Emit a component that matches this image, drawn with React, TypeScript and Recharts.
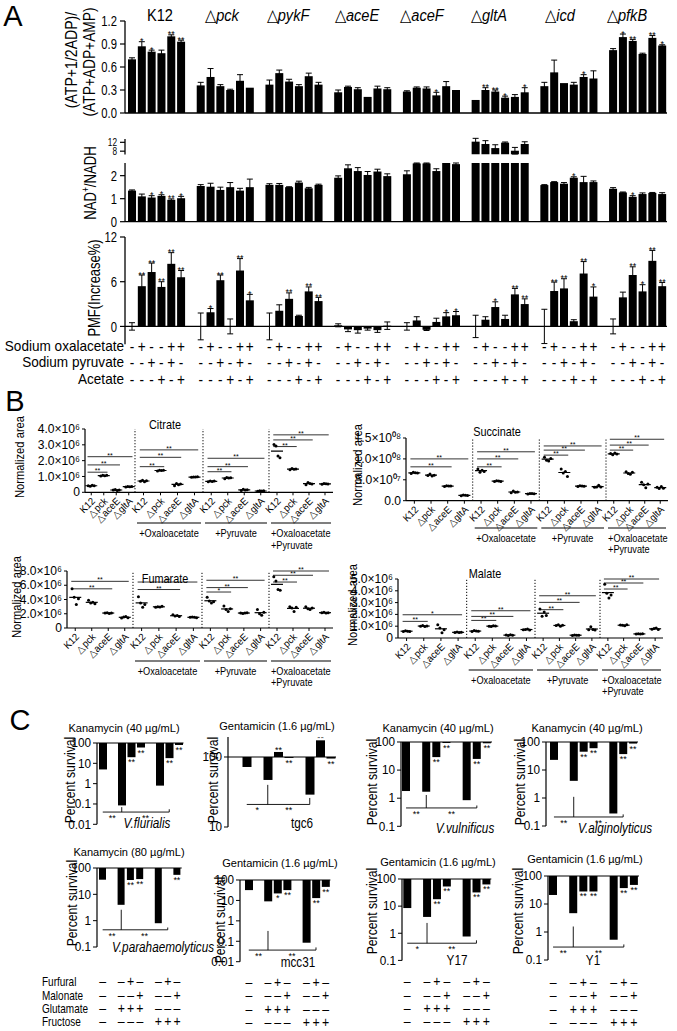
import React from 'react';
import { BarChart, Bar, XAxis, YAxis, ErrorBar, ReferenceLine, ComposedChart, Scatter } from 'recharts';

const FONT = '"Liberation Sans", Arial, Helvetica, sans-serif';
const BLACK = '#000';
const PAD = 30;

// ================= Panel A data =================
const A_GROUPS = ['K12', 'pck', 'pykF', 'aceE', 'aceF', 'gltA', 'icd', 'pfkB'];
const A_GROUP_X = [160, 222, 288, 357, 422, 489, 560, 627];
const A_OXAL = ['-', '+', '-', '-', '+', '+'];
const A_PYR = ['-', '-', '+', '-', '+', '-'];
const A_ACET = ['-', '-', '-', '+', '-', '+'];

const ATP_VAL = [
  [0.70, 0.87, 0.80, 0.78, 1.00, 0.93],
  [0.36, 0.47, 0.35, 0.30, 0.42, 0.33],
  [0.37, 0.52, 0.41, 0.35, 0.48, 0.37],
  [0.27, 0.34, 0.31, 0.21, 0.32, 0.31],
  [0.28, 0.33, 0.32, 0.23, 0.35, 0.30],
  [0.17, 0.30, 0.28, 0.20, 0.21, 0.27],
  [0.35, 0.53, 0.39, 0.37, 0.47, 0.45],
  [0.82, 0.99, 0.94, 0.77, 0.98, 0.88],
];
const ATP_ERR = [
  [0.02, 0.06, 0.02, 0.04, 0.02, 0.02],
  [0.04, 0.11, 0.02, 0.01, 0.08, 0.0],
  [0.06, 0.04, 0.03, 0.02, 0.04, 0.03],
  [0.03, 0.01, 0.02, 0.0, 0.03, 0.02],
  [0.01, 0.01, 0.02, 0.04, 0.06, 0.0],
  [0.0, 0.03, 0.02, 0.02, 0.03, 0.06],
  [0.05, 0.16, 0.0, 0.03, 0.03, 0.10],
  [0.02, 0.04, 0.02, 0.01, 0.03, 0.01],
];
const ATP_SIG = [
  ['', '*', '*', '', '**', '**'],
  ['', '', '', '', '', ''],
  ['', '', '', '', '', ''],
  ['', '', '', '', '', ''],
  ['', '', '', '*', '', ''],
  ['', '**', '**', '*', '', '*'],
  ['', '', '', '', '*', ''],
  ['', '*', '**', '', '**', '*'],
];

const NAD_VAL = [
  [1.35, 1.10, 1.05, 1.12, 0.95, 1.02],
  [1.55, 1.52, 1.38, 1.50, 1.35, 1.50],
  [1.60, 1.60, 1.50, 1.70, 1.45, 1.60],
  [1.91, 2.32, 2.20, 2.03, 2.18, 1.98],
  [2.06, 2.53, 2.53, 2.20, 2.60, 2.50],
  [12.3, 11.25, 9.4, 11.85, 8.2, 11.25],
  [1.59, 1.72, 1.65, 1.91, 1.72, 1.72],
  [1.43, 1.27, 1.08, 1.20, 1.25, 1.20],
];
const NAD_ERR = [
  [0.03, 0.10, 0.08, 0.05, 0.04, 0.08],
  [0.06, 0.15, 0.12, 0.20, 0.10, 0.35],
  [0.05, 0.06, 0.02, 0.06, 0.04, 0.03],
  [0.08, 0.15, 0.15, 0.15, 0.10, 0.10],
  [0.15, 0.02, 0.02, 0.10, 0.0, 0.05],
  [1.5, 1.5, 1.5, 0.3, 1.5, 1.0],
  [0.02, 0.02, 0.05, 0.04, 0.25, 0.05],
  [0.05, 0.02, 0.05, 0.05, 0.02, 0.06],
];
const NAD_SIG = [
  ['', '', '*', '*', '**', '*'],
  ['', '', '', '', '', ''],
  ['', '', '', '', '', ''],
  ['', '', '', '', '', ''],
  ['', '', '', '', '', ''],
  ['', '', '', '', '', ''],
  ['', '', '', '*', '', ''],
  ['', '', '*', '', '', ''],
];
const NAD_BROKEN_GROUP = 5; // gltA runs past the lower axis segment

const PMF_VAL = [
  [0, 5.4, 7.3, 5.3, 8.4, 6.6],
  [0, 1.9, 6.2, 0, 7.5, 3.5],
  [0, 2.1, 3.7, 1.4, 4.7, 3.4],
  [0.15, -0.4, -0.5, -0.3, -0.5, 0.1],
  [0, 0.8, -0.45, 0.6, 1.35, 1.5],
  [0, 0.9, 2.6, 1.0, 4.3, 3.0],
  [0, 4.75, 5.1, 0.7, 7.1, 4.0],
  [0, 3.9, 6.9, 4.7, 8.8, 5.4],
];
const PMF_ERR = [
  [0.5, 1.5, 1.2, 0.7, 1.5, 0.9],
  [1.8, 0.5, 0.7, 1.0, 1.6, 0.8],
  [1.8, 0.8, 0.8, 0.1, 0.6, 0.5],
  [0.2, 0.3, 0.4, 0.2, 0.3, 0.5],
  [0.5, 0.5, 0.1, 0.5, 0.5, 0.5],
  [1.5, 0.4, 0.7, 0.5, 0.8, 0.7],
  [2.3, 1.2, 1.3, 0.2, 1.6, 1.3],
  [1.0, 0.7, 1.1, 0.9, 1.4, 0.5],
];
const PMF_SIG = [
  ['', '**', '**', '**', '**', '**'],
  ['', '*', '**', '', '**', '*'],
  ['', '', '**', '', '**', '**'],
  ['', '', '', '', '', ''],
  ['', '', '', '', '*', '*'],
  ['', '', '*', '', '**', '**'],
  ['', '**', '**', '', '**', '*'],
  ['', '', '**', '*', '**', '**'],
];

// ================= Panel B data =================
const B_XLAB = ['K12', '\u25B3pck', '\u25B3aceE', '\u25B3gltA'];

const CIT_REPS = [
  [0.42, 0.39, 0.44, 0.41], [1.03, 1.08, 1.05, 1.07], [0.14, 0.17, 0.12, 0.15], [0.33, 0.37, 0.35, 0.36],
  [0.70, 0.76, 0.67, 0.73], [1.35, 1.39, 1.37, 1.40], [0.42, 0.56, 0.48, 0.52], [0.95, 0.97, 0.96, 0.98],
  [0.66, 0.72, 0.69, 0.71], [0.86, 0.94, 0.90, 0.92], [0.11, 0.19, 0.14, 0.16], [0.06, 0.10, 0.08, 0.09],
  [3.02, 2.92, 2.30, 2.18], [1.43, 1.50, 1.45, 1.47], [0.48, 0.62, 0.55, 0.52], [0.51, 0.56, 0.54, 0.53],
];
const CIT_SIG = [
  [0, 1, 1.27, '**'], [0, 2, 1.73, '**'], [0, 3, 2.25, '**'],
  [1, 1, 1.62, '**'], [1, 2, 2.21, '**'], [1, 3, 2.68, '**'],
  [2, 1, 1.3, '**'], [2, 2, 1.62, '**'], [2, 3, 2.15, '**'],
  [3, 1, 2.89, '**'], [3, 2, 3.31, '**'], [3, 3, 3.63, '**'],
];
const CIT_TICKS = [0, 1, 2, 3, 4];
const CIT_TICKLAB = ['0', '1.0×10⁶', '2.0×10⁶', '3.0×10⁶', '4.0×10⁶'];

const SUC_REPS = [
  [6.5, 6.8, 6.7, 6.6], [6.0, 6.4, 5.9, 6.1], [3.4, 3.6, 3.5, 3.5], [1.2, 1.35, 1.3, 1.25],
  [7.6, 6.8, 7.3, 7.0], [4.6, 4.8, 4.7, 4.6], [1.9, 2.3, 2.0, 2.1], [1.6, 1.75, 1.7, 1.65],
  [10.4, 9.7, 9.5, 10.1], [7.6, 6.6, 7.0, 5.8], [3.4, 3.6, 3.5, 3.45], [3.2, 3.3, 3.7, 3.25],
  [11.3, 11.0, 11.4, 11.2], [6.9, 6.5, 6.3, 6.8], [4.4, 3.8, 3.1, 4.0], [3.2, 2.9, 3.4, 3.0],
];
const SUC_SIG = [
  [0, 2, 8.1, '**'], [0, 3, 10.0, '**'],
  [1, 1, 8.1, '**'], [1, 2, 10.0, '**'], [1, 3, 11.7, '**'],
  [2, 1, 10.9, '**'], [2, 2, 12.1, '**'], [2, 3, 13.1, '**'],
  [3, 1, 12.1, '**'], [3, 2, 13.3, '**'], [3, 3, 14.7, '**'],
];
const SUC_TICKS = [0, 5, 10, 15];
const SUC_TICKLAB = ['0.0', '5.0×10⁰⁷', '1.0×10⁰⁸', '1.5×10⁰⁸'];

const FUM_REPS = [
  [5.5, 4.3, 3.3, 4.1], [3.9, 3.5, 3.6, 3.4], [2.1, 2.15, 2.05, 2.1], [1.4, 1.55, 1.6, 1.45],
  [4.4, 3.5, 2.9, 3.3], [2.9, 3.0, 2.95, 3.05], [1.85, 1.7, 1.75, 1.6], [1.5, 1.55, 1.5, 1.45],
  [4.3, 3.8, 3.5, 3.7], [3.1, 2.6, 2.3, 2.7], [2.1, 2.05, 2.1, 2.15], [2.6, 2.0, 1.8, 2.2],
  [7.2, 6.6, 5.4, 5.3], [3.0, 2.8, 2.3, 2.9], [3.0, 2.7, 2.6, 2.8], [2.15, 2.2, 2.1, 2.15],
];
const FUM_SIG = [
  [0, 2, 5.5, '**'], [0, 3, 6.55, '**'],
  [1, 2, 5.4, '**'], [1, 3, 6.45, '**'],
  [2, 1, 5.05, '*'], [2, 2, 5.67, '**'], [2, 3, 6.7, '**'],
  [3, 1, 6.45, '**'], [3, 2, 7.4, '**'], [3, 3, 8.0, '**'],
];
const FUM_TICKS = [0, 2, 4, 6, 8];
const FUM_TICKLAB = ['0', '2.0×10⁶', '4.0×10⁶', '6.0×10⁶', '8.0×10⁶'];

const MAL_REPS = [
  [0.55, 0.62, 0.58, 0.56], [1.0, 1.06, 0.97, 1.02], [1.12, 0.85, 0.45, 0.7], [0.47, 0.5, 0.46, 0.49],
  [0.55, 0.63, 0.6, 0.57], [1.0, 0.97, 1.04, 1.01], [0.25, 0.21, 0.27, 0.24], [0.7, 0.73, 0.76, 0.68],
  [2.45, 1.85, 2.2, 1.9], [1.05, 1.12, 1.0, 1.08], [0.22, 0.26, 0.24, 0.23], [0.7, 0.95, 0.72, 0.68],
  [4.55, 3.8, 3.4, 3.65], [1.1, 1.07, 1.04, 1.12], [0.33, 0.37, 0.34, 0.35], [0.75, 0.8, 0.84, 0.73],
];
const MAL_SIG = [
  [0, 1, 1.41, '**'], [0, 3, 1.97, '*'],
  [1, 1, 1.49, '**'], [1, 2, 1.83, '**'], [1, 3, 2.31, '**'],
  [2, 1, 2.4, '**'], [2, 2, 3.02, '**'], [2, 3, 3.58, '**'],
  [3, 1, 4.15, '**'], [3, 2, 4.66, '**'], [3, 3, 5.0, '**'],
];
const MAL_TICKS = [0, 1, 2, 3, 4, 5];
const MAL_TICKLAB = ['0', '1.0×10⁶', '2.0×10⁶', '3.0×10⁶', '4.0×10⁶', '5.0×10⁶'];

// ================= Panel C data =================
const C_KEYS = ['b1', 'g1', 'b2', 'b3', 'b4', 'g2', 'b5', 'b6', 'b7'];
const C_BAR_KEYS = ['b1', 'b2', 'b3', 'b4', 'b5', 'b6', 'b7'];
const C1_VAL = [5, 0.085, 20, 60, 0.8, 18, 80];
const C2_VAL = [72, 47, 118, 97, 29, 173, 95];
const C3_VAL = [1.8, 1.7, 29, 92, 0.85, 25, 90];
const C4_VAL = [23, 4.1, 45, 60, 0.28, 37, 88];
const C5_VAL = [36, 4, 35, 38, 0.8, 104, 55];
const C6_VAL = [32, 9, 22, 32, 0.085, 13, 46];
const C7_VAL = [8.5, 4, 18, 53, 0.76, 32, 63];
const C8_VAL = [21, 4.7, 28, 28, 0.53, 37, 48];
const C_STAR = ['', '', '**', '**', '', '**', '**'];
const C6_STAR = ['', '', '*', '**', '', '**', '**'];
const C_FURFURAL = ['–', '–', '+', '–', '–', '+', '–'];
const C_MALONATE = ['–', '–', '–', '+', '–', '–', '+'];
const C_GLUTAMATE = ['–', '+', '+', '+', '–', '–', '–'];
const C_FRUCTOSE = ['–', '–', '–', '–', '+', '+', '+'];
const C_TABLE_LABELS = ['Furfural', 'Malonate', 'Glutamate', 'Fructose'];

// ================= helpers =================
function buildA(vals: (number | null)[][], errs: number[][], sigs: string[][]) {
  const out: any[] = [];
  vals.forEach((row, g) => {
    row.forEach((v, i) => out.push({ k: `${g}-${i}`, v, e: v == null ? 0 : errs[g][i], s: sigs[g][i] }));
    if (g < vals.length - 1) out.push({ k: `gap${g}`, v: null, e: 0, s: '' });
  });
  return out;
}
const ATP_DATA = buildA(ATP_VAL, ATP_ERR, ATP_SIG);
const NAD_UP_DATA = buildA(NAD_VAL.map((r, g) => r.map((v) => (g === NAD_BROKEN_GROUP ? v : null))), NAD_ERR, NAD_SIG);
const NAD_LO_DATA = buildA(NAD_VAL, NAD_ERR.map((r, g) => (g === NAD_BROKEN_GROUP ? r.map(() => 0) : r)), NAD_SIG);
const PMF_DATA = buildA(PMF_VAL, PMF_ERR, PMF_SIG);

function buildC(vals: number[], stars: string[]) {
  let bi = 0;
  return C_KEYS.map((k) => {
    if (k.startsWith('g')) return { k, r: null, v: null, s: '' };
    const v = vals[bi];
    const s = stars[bi];
    bi++;
    return { k, v, r: [Math.min(v, 100), Math.max(v, 100)], s };
  });
}

type Box = { x0: number; x1: number; y0: number; y1: number; yW: number; xH: number };
function place(b: Box) {
  const width = b.x1 - b.x0 + b.yW + 2 * PAD;
  const height = b.y1 - b.y0 + b.xH + 2 * PAD;
  return {
    style: { position: 'absolute' as const, left: b.x0 - b.yW - PAD, top: b.y0 - PAD, width, height },
    width,
    height,
    margin: { top: PAD, right: PAD, bottom: PAD, left: PAD },
  };
}

// condensed text: k squeezes glyphs along the reading direction
function CText({ x, y, size = 12, anchor = 'middle', rot = 0, k = 1, italic = false, children }: any) {
  return (
    <g transform={`translate(${x} ${y}) rotate(${rot}) scale(${k} 1)`}>
      <text x={0} y={0} fontSize={size} textAnchor={anchor} dominantBaseline="central" fontFamily={FONT}
        fontStyle={italic ? 'italic' : 'normal'} fill={BLACK}>
        {children}
      </text>
    </g>
  );
}

const yTick = (fmt: (v: number) => string, size: number, k: number) => (p: any) => (
  <CText x={p.x} y={p.y} size={size} k={k} anchor="end">{fmt(p.payload?.value)}</CText>
);

const lbl = (txt: string, dy: number, fs: number) => (props: any) => {
  const vb = props.viewBox || {};
  const x = (vb.x ?? 0) + (vb.width ?? 0) / 2;
  const y = (vb.y ?? 0) + dy;
  return <text x={x} y={y} textAnchor="middle" fontSize={fs} fontFamily={FONT} fill={BLACK}>{txt}</text>;
};

const aShape = (base: number, stars: boolean) => (p: any) => {
  const { x, y, width, height, payload } = p;
  if (!payload || payload.v == null || !isFinite(y) || !isFinite(height)) return <g />;
  const top = Math.min(y, y + height);
  const h = Math.abs(height);
  let star = null;
  if (stars && payload.s && payload.v - base > 0) {
    const ppu = h / (payload.v - base);
    const ty = top - (payload.e || 0) * ppu + 2.5;
    star = <text x={x + width / 2} y={ty} textAnchor="middle" fontSize={9} fontFamily={FONT} fill={BLACK}>{payload.s}</text>;
  }
  return <g><rect x={x} y={top} width={width} height={h} fill={BLACK} />{star}</g>;
};

const signTick = (p: any) => {
  const key = String(p.payload?.value ?? '');
  const m = key.match(/^(\d+)-(\d+)$/);
  if (!m) return <g />;
  const i = Number(m[2]);
  const rows = [A_OXAL[i], A_PYR[i], A_ACET[i]];
  const offs = [2, 18, 35];
  return (
    <g>
      {rows.map((s, r) => (
        <CText key={r} x={p.x} y={p.y + offs[r]} size={16} k={0.85}>{s}</CText>
      ))}
    </g>
  );
};

function ARow({ box, data, domain, ticks, fmt, axisLine, zeroLine, base, stars, signs, tickFont = 15 }: any) {
  const p = place(box);
  return (
    <div style={p.style}>
      <BarChart width={p.width} height={p.height} margin={p.margin} data={data} barCategoryGap={1} barGap={0}>
        <XAxis dataKey="k" type="category" interval={0} padding={{ left: 2, right: 0 }} height={box.xH}
          axisLine={axisLine ? { stroke: BLACK, strokeWidth: 1.3 } : false} tickLine={false} tickSize={0} tickMargin={0}
          tick={signs ? signTick : false} />
        <YAxis type="number" domain={domain} ticks={ticks} interval={0} allowDataOverflow width={box.yW}
          axisLine={{ stroke: BLACK, strokeWidth: 1.3 }} tickLine={{ stroke: BLACK, strokeWidth: 1.2 }}
          tickSize={5} tickMargin={3} tick={yTick(fmt, tickFont, 0.75)} />
        {zeroLine ? <ReferenceLine y={0} stroke={BLACK} strokeWidth={1.3} /> : null}
        <Bar dataKey="v" fill={BLACK} isAnimationActive={false} shape={aShape(base, stars)}>
          <ErrorBar dataKey="e" width={3} stroke={BLACK} strokeWidth={1} direction="y" />
        </Bar>
      </BarChart>
    </div>
  );
}

const dotShape = (p: any) => <circle cx={p.cx} cy={p.cy} r={1.5} fill={BLACK} />;
const meanShape = (p: any) => <line x1={p.cx - 6} x2={p.cx + 6} y1={p.cy} y2={p.cy} stroke={BLACK} strokeWidth={1.2} />;

const rotTick = (t: any, xs: number[]) => {
  const v = t.payload?.value;
  let idx = xs.findIndex((x) => Math.abs(x - v) < 1e-9);
  if (idx < 0) idx = t.index ?? 0;
  const lab = B_XLAB[idx % 4];
  return <CText x={t.x + 2} y={t.y + 4} rot={-45} anchor="end" size={10} k={0.95}>{lab}</CText>;
};

function MetaChart({ cfg }: any) {
  const { box, bounds, reps, sig, domain, ticks, labels } = cfg;
  const p = place(box);
  const pos = (g: number, i: number) => bounds[g] + (bounds[g + 1] - bounds[g]) * (0.125 + 0.25 * i);
  const xs: number[] = [];
  const pts: any[] = [];
  const means: any[] = [];
  for (let g = 0; g < 4; g++) {
    for (let i = 0; i < 4; i++) {
      const x = pos(g, i);
      xs.push(x);
      const r = reps[g * 4 + i];
      r.forEach((y: number, j: number) => pts.push({ x: x + (j - (r.length - 1) / 2) * 0.008, y }));
      means.push({ x, y: r.reduce((a: number, b: number) => a + b, 0) / r.length });
    }
  }
  const d = 0.015;
  return (
    <div style={p.style}>
      <ComposedChart width={p.width} height={p.height} margin={p.margin}>
        <XAxis type="number" dataKey="x" domain={[0, 1]} ticks={xs} interval={0} allowDataOverflow height={box.xH}
          axisLine={{ stroke: BLACK, strokeWidth: 1.2 }} tickLine={{ stroke: BLACK }} tickSize={3} tickMargin={0}
          tick={(t: any) => rotTick(t, xs)} />
        <YAxis type="number" dataKey="y" domain={domain} ticks={ticks} interval={0} allowDataOverflow width={box.yW}
          axisLine={{ stroke: BLACK, strokeWidth: 1.2 }} tickLine={{ stroke: BLACK }} tickSize={3} tickMargin={2}
          tick={yTick((v: number) => labels[ticks.indexOf(v)] ?? '', 12.5, 0.97)} />
        {[1, 2, 3].map((g) => (
          <ReferenceLine key={'sep' + g} x={bounds[g]} stroke={BLACK} strokeWidth={1} strokeDasharray="1.2 1.8" />
        ))}
        {sig.map((s: any, k: number) => (
          <ReferenceLine key={'sig' + k}
            segment={[{ x: pos(s[0], 0) - d, y: s[2] }, { x: pos(s[0], s[1]) + d, y: s[2] }]}
            stroke="#333" strokeWidth={1} label={lbl(s[3], 1, 7)} />
        ))}
        <Scatter data={pts} isAnimationActive={false} shape={dotShape} />
        <Scatter data={means} isAnimationActive={false} shape={meanShape} />
      </ComposedChart>
    </div>
  );
}

const cShape = (p: any) => {
  const { x, y, width, height, payload } = p;
  if (!payload || payload.r == null || !isFinite(y) || !isFinite(height)) return <g />;
  const top = Math.min(y, y + height);
  const h = Math.abs(height);
  const down = payload.v < 100;
  return (
    <g>
      <rect x={x} y={top} width={width} height={h} fill={BLACK} />
      {payload.s ? (
        <text x={x + width / 2} y={down ? top + h + 8 : top + 1} textAnchor="middle" fontSize={9} fontFamily={FONT} fill={BLACK}>{payload.s}</text>
      ) : null}
    </g>
  );
};

const cTableTick = (rowYs: number[], y1: number) => (p: any) => {
  const key = String(p.payload?.value ?? '');
  const bi = C_BAR_KEYS.indexOf(key);
  if (bi < 0) return <g />;
  const rows = [C_FURFURAL[bi], C_MALONATE[bi], C_GLUTAMATE[bi], C_FRUCTOSE[bi]];
  return (
    <g>
      {rows.map((s, r) => (
        <CText key={r} x={p.x} y={p.y + (rowYs[r] - y1)} size={14} k={0.88}>{s}</CText>
      ))}
    </g>
  );
};

function SurvChart({ cfg }: any) {
  const { box, padL, domain, ticks, vals, stars, br, table } = cfg;
  const p = place(box);
  const data = buildC(vals, stars);
  const R = br.right;
  return (
    <div style={p.style}>
      <BarChart width={p.width} height={p.height} margin={p.margin} data={data} barCategoryGap={1} barGap={0}>
        <XAxis dataKey="k" type="category" interval={0} padding={{ left: padL, right: 0 }} height={box.xH}
          axisLine={false} tickLine={false} tickSize={0} tickMargin={0}
          tick={table ? cTableTick(C_ROWS_Y, box.y1) : false} />
        <YAxis type="number" scale="log" domain={domain} ticks={ticks} interval={0} allowDataOverflow width={box.yW}
          axisLine={{ stroke: BLACK, strokeWidth: 1.2 }} tickLine={{ stroke: BLACK }} tickSize={4} tickMargin={2}
          tick={yTick((v: number) => String(v), 13.5, 0.87)} />
        <ReferenceLine y={100} stroke={BLACK} strokeWidth={1.2} />
        <Bar dataKey="r" fill={BLACK} isAnimationActive={false} shape={cShape} />
        <ReferenceLine segment={[{ x: 'b1', y: br.yb }, { x: R, y: br.yb }]} stroke={BLACK} strokeWidth={0.9} />
        <ReferenceLine segment={[{ x: 'b2', y: br.yb }, { x: 'b2', y: br.t2 }]} stroke={BLACK} strokeWidth={0.9} />
        <ReferenceLine segment={[{ x: R, y: br.yb }, { x: R, y: br.tr }]} stroke={BLACK} strokeWidth={0.9} />
        <ReferenceLine segment={[{ x: 'b1', y: br.yb }, { x: 'b2', y: br.yb }]} stroke="none" label={lbl(br.l1, 9, 9)} />
        <ReferenceLine segment={[{ x: 'b2', y: br.yb }, { x: R, y: br.yb }]} stroke="none" label={lbl(br.l2, 9, 9)} />
      </BarChart>
    </div>
  );
}

// ================= layout configs =================
const A_X0 = 125;
const A_X1 = 667;

const B_CFG = [
  { name: 'Citrate', box: { x0: 85, x1: 333, y0: 429, y1: 492.3, yW: 55, xH: 36 }, bounds: [0, 0.2016, 0.4758, 0.7419, 1],
    reps: CIT_REPS, sig: CIT_SIG, domain: [0, 4], ticks: CIT_TICKS, labels: CIT_TICKLAB,
    title: [165, 424], ylab: [20, 457], grp: [523, 533, 545] },
  { name: 'Succinate', box: { x0: 406, x1: 668, y0: 438, y1: 500.7, yW: 55, xH: 36 }, bounds: [0, 0.2546, 0.5088, 0.7634, 1],
    reps: SUC_REPS, sig: SUC_SIG, domain: [0, 15], ticks: SUC_TICKS, labels: SUC_TICKLAB,
    title: [497, 431], ylab: [358, 465], grp: [528, 538, 549] },
  { name: 'Fumarate', box: { x0: 67, x1: 333, y0: 570.7, y1: 627.7, yW: 55, xH: 36 }, bounds: [0, 0.2481, 0.5075, 0.7594, 1],
    reps: FUM_REPS, sig: FUM_SIG, domain: [0, 8], ticks: FUM_TICKS, labels: FUM_TICKLAB,
    title: [165, 578], ylab: [17, 597], grp: [661, 671, 682] },
  { name: 'Malate', box: { x0: 398, x1: 663, y0: 579.3, y1: 638.3, yW: 55, xH: 36 }, bounds: [0, 0.2592, 0.517, 0.7623, 1],
    reps: MAL_REPS, sig: MAL_SIG, domain: [0, 5], ticks: MAL_TICKS, labels: MAL_TICKLAB,
    title: [485, 573], ylab: [353, 605], grp: [670, 680, 691] },
];

const C_ROWS_Y = [982, 995.5, 1009, 1022];
const LOG4 = [0.01, 0.1, 1, 10, 100];
const LOG3 = [0.1, 1, 10, 100];
const C_CFG = [
  { box: { x0: 97, x1: 183.5, y0: 742.7, y1: 824, yW: 40, xH: 1 }, padL: 1, domain: [0.01, 100], ticks: LOG4,
    vals: C1_VAL, stars: C_STAR, br: { yb: 0.04, right: 'b6', t2: 0.07, tr: 0.055, l1: '**', l2: '**' }, table: false,
    title: ['Kanamycin (40 µg/mL)', 124, 728], ylab: [70, 780], species: ['V.flurialis', 147, 823, true] },
  { box: { x0: 228, x1: 336, y0: 736.7, y1: 826.7, yW: 40, xH: 1 }, padL: 13.5, domain: [10, 193], ticks: [10, 100],
    vals: C2_VAL, stars: C_STAR, br: { yb: 21, right: 'b5', t2: 40, tr: 26, l1: '*', l2: '**' }, table: false,
    title: ['Gentamicin (1.6 µg/mL)', 277, 726], ylab: [213, 780], species: ['tgc6', 302, 823, false] },
  { box: { x0: 401, x1: 492, y0: 741.7, y1: 826, yW: 40, xH: 1 }, padL: 0, domain: [0.1, 100], ticks: LOG3,
    vals: C3_VAL, stars: C_STAR, br: { yb: 0.45, right: 'b6', t2: 1.3, tr: 0.55, l1: '**', l2: '**' }, table: false,
    title: ['Kanamycin (40 µg/mL)', 438, 728], ylab: [372, 782], species: ['V.vulnificus', 465, 828, true] },
  { box: { x0: 546, x1: 638, y0: 742, y1: 826, yW: 40, xH: 1 }, padL: 3, domain: [0.1, 100], ticks: LOG3,
    vals: C4_VAL, stars: C_STAR, br: { yb: 0.21, right: 'b6', t2: 1.1, tr: 0.26, l1: '**', l2: '**' }, table: false,
    title: ['Kanamycin (40 µg/mL)', 587, 728], ylab: [520, 782], species: ['V.alginolyticus', 615, 828, true] },
  { box: { x0: 97, x1: 181.7, y0: 868.3, y1: 947.3, yW: 40, xH: 80 }, padL: 1, domain: [0.1, 100], ticks: LOG3,
    vals: C5_VAL, stars: C_STAR, br: { yb: 0.45, right: 'b6', t2: 2.6, tr: 0.55, l1: '**', l2: '**' }, table: true,
    title: ['Kanamycin (80 µg/mL)', 129, 852], ylab: [72, 903], species: ['V.parahaemolyticus', 163, 947, true] },
  { box: { x0: 240, x1: 330.4, y0: 880, y1: 961.7, yW: 40, xH: 66 }, padL: 4, domain: [0.01, 100], ticks: LOG4,
    vals: C6_VAL, stars: C6_STAR, br: { yb: 0.037, right: 'b6', t2: 0.32, tr: 0.05, l1: '**', l2: '**' }, table: true,
    title: ['Gentamicin (1.6 µg/mL)', 280, 863], ylab: [220, 920], species: ['mcc31', 298, 962, false] },
  { box: { x0: 401.7, x1: 491, y0: 879.3, y1: 960.7, yW: 40, xH: 66 }, padL: 0.3, domain: [0.1, 100], ticks: LOG3,
    vals: C7_VAL, stars: C_STAR, br: { yb: 0.43, right: 'b6', t2: 2.4, tr: 0.55, l1: '*', l2: '**' }, table: true,
    title: ['Gentamicin (1.6 µg/mL)', 438, 862], ylab: [372, 911], species: ['Y17', 457, 960, false] },
  { box: { x0: 548, x1: 639, y0: 876, y1: 960, yW: 40, xH: 66 }, padL: 0, domain: [0.1, 100], ticks: LOG3,
    vals: C8_VAL, stars: C_STAR, br: { yb: 0.29, right: 'b6', t2: 1.57, tr: 0.36, l1: '**', l2: '**' }, table: true,
    title: ['Gentamicin (1.6 µg/mL)', 585, 859], ylab: [518, 911], species: ['Y1', 593, 960, false] },
];

function Overlay() {
  return (
    <svg width={677} height={1031} style={{ position: 'absolute', left: 0, top: 0, pointerEvents: 'none' }}>
      {/* panel letters */}
      <CText x={13} y={16} size={29}>A</CText>
      <CText x={15} y={401} size={29}>B</CText>
      <CText x={20} y={720} size={29}>C</CText>

      {/* Panel A group labels */}
      {A_GROUPS.map((g, i) => (
        <CText key={g} x={A_GROUP_X[i]} y={15} size={17} k={0.86}>
          {i === 0 ? g : (<><tspan>{'\u25B3'}</tspan><tspan fontStyle="italic">{g}</tspan></>)}
        </CText>
      ))}
      {/* Panel A axis titles */}
      <CText x={71} y={60} size={16} k={0.88} rot={-90}>(ATP+1/2ADP)/</CText>
      <CText x={89} y={62} size={16} k={0.86} rot={-90}>(ATP+ADP+AMP)</CText>
      <CText x={91} y={183} size={16} k={0.82} rot={-90}>NAD<tspan baselineShift="super" fontSize={10}>+</tspan>/NADH</CText>
      <CText x={95} y={288} size={16} k={0.81} rot={-90}>PMF(Increase%)</CText>
      {/* Panel A table row labels */}
      <CText x={124} y={346} size={14} k={0.97} anchor="end">Sodium oxalacetate</CText>
      <CText x={124} y={362} size={14} k={0.97} anchor="end">Sodium pyruvate</CText>
      <CText x={124} y={379} size={14} k={0.97} anchor="end">Acetate</CText>

      {/* Panel B labels */}
      {B_CFG.map((c, ci) => {
        const px = (f: number) => c.box.x0 + f * (c.box.x1 - c.box.x0);
        return (
          <g key={ci}>
            <CText x={c.title[0]} y={c.title[1]} size={12.5} k={0.87}>{c.name}</CText>
            <CText x={c.ylab[0]} y={c.ylab[1]} size={13.5} k={0.83} rot={-90}>Normalized area</CText>
            {[1, 2, 3].map((g) => (
              <line key={g} x1={px(c.bounds[g]) + 2} x2={px(c.bounds[g + 1]) - 2} y1={c.grp[0]} y2={c.grp[0]} stroke={BLACK} strokeWidth={1.2} />
            ))}
            <CText x={(px(c.bounds[1]) + px(c.bounds[2])) / 2} y={c.grp[1]} size={11.5} k={0.8}>+Oxaloacetate</CText>
            <CText x={(px(c.bounds[2]) + px(c.bounds[3])) / 2} y={c.grp[1]} size={11.5} k={0.8}>+Pyruvate</CText>
            <CText x={px(c.bounds[3]) + 2} y={c.grp[1]} size={11.5} k={0.8} anchor="start">+Oxaloacetate</CText>
            <CText x={px(c.bounds[3]) + 2} y={c.grp[2]} size={11.5} k={0.8} anchor="start">+Pyruvate</CText>
          </g>
        );
      })}

      {/* Panel C labels */}
      {C_CFG.map((c, ci) => (
        <g key={ci}>
          <CText x={c.title[1]} y={c.title[2]} size={11.5} k={0.96}>{c.title[0]}</CText>
          <CText x={c.ylab[0]} y={c.ylab[1]} size={14} k={0.87} rot={-90}>Percent survival</CText>
          <CText x={c.species[1]} y={c.species[2]} size={14} k={0.84} italic={c.species[3]}>{c.species[0]}</CText>
        </g>
      ))}
      {C_TABLE_LABELS.map((t, i) => (
        <CText key={t} x={42} y={C_ROWS_Y[i]} size={12.5} k={0.8} anchor="start">{t}</CText>
      ))}
    </svg>
  );
}

export default function App() {
  return (
    <div style={{ position: 'absolute', left: 0, top: 0, width: 677, height: 1031, background: '#fff', overflow: 'hidden', fontFamily: FONT }}>
      <ARow box={{ x0: A_X0, x1: A_X1, y0: 21, y1: 113, yW: 40, xH: 1 }} data={ATP_DATA} domain={[0, 1.2]}
        ticks={[0, 0.3, 0.6, 0.9, 1.2]} fmt={(v: number) => v.toFixed(1)} axisLine base={0} stars />
      <ARow box={{ x0: A_X0, x1: A_X1, y0: 139, y1: 154.5, yW: 40, xH: 1 }} data={NAD_UP_DATA} domain={[6.5, 13.5]}
        ticks={[8, 12]} fmt={(v: number) => String(v)} base={6.5} stars={false} tickFont={11} />
      <ARow box={{ x0: A_X0, x1: A_X1, y0: 163, y1: 221.7, yW: 40, xH: 1 }} data={NAD_LO_DATA} domain={[0, 2.55]}
        ticks={[0, 1, 2]} fmt={(v: number) => String(v)} axisLine base={0} stars />
      <ARow box={{ x0: A_X0, x1: A_X1, y0: 236.7, y1: 344, yW: 40, xH: 45 }} data={PMF_DATA} domain={[-2.4, 12]}
        ticks={[0, 6, 12]} fmt={(v: number) => String(v)} zeroLine base={0} stars signs />
      {B_CFG.map((c, i) => <MetaChart key={'b' + i} cfg={c} />)}
      {C_CFG.map((c, i) => <SurvChart key={'c' + i} cfg={c} />)}
      <Overlay />
    </div>
  );
}
